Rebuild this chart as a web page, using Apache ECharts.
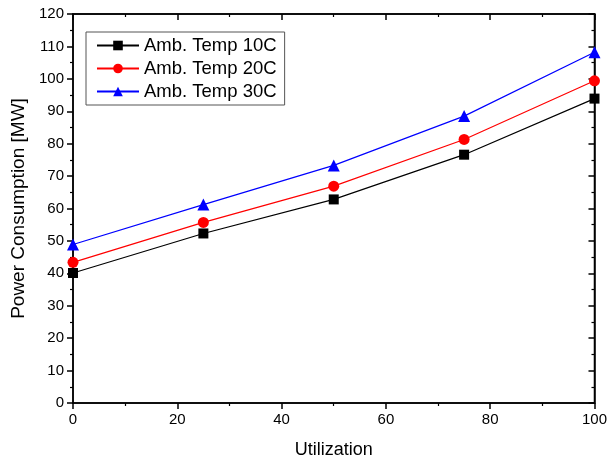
<!DOCTYPE html>
<html><head><meta charset="utf-8">
<script src="https://cdn.jsdelivr.net/npm/echarts@6/dist/echarts.min.js"></script>
<style>html,body{margin:0;padding:0;background:#fff}#c{width:610px;height:464px}</style>
</head><body><div id="c"></div>
<script>
const utilization = [0, 25, 50, 75, 100];
const temp10 = [40.1, 52.3, 62.8, 76.6, 93.9];
const temp20 = [43.4, 55.7, 66.9, 81.3, 99.4];
const temp30 = [48.9, 61.2, 73.3, 88.5, 108.2];
const seriesNames = ['Amb. Temp 10C', 'Amb. Temp 20C', 'Amb. Temp 30C'];

const font = 'Arial, "Liberation Sans", sans-serif';
const pairs = arr => utilization.map((u, i) => [u, arr[i]]);
const axisLine = {show: true, onZero: false, lineStyle: {color: '#000', width: 1.5}};
const chart = echarts.init(document.getElementById('c'));
chart.setOption({
  animation: false,
  grid: {left: 73, right: 12, top: 14, bottom: 61, show: true, borderColor: '#000', borderWidth: 1.5},
  legend: {
    orient: 'vertical', left: 86, top: 32,
    data: seriesNames,
    borderColor: '#555', borderWidth: 1, borderRadius: 0,
    padding: [4, 8, 4, 10], itemGap: 4, itemWidth: 42, itemHeight: 12,
    textStyle: {fontFamily: font, fontSize: 18.5, color: '#000'}
  },
  xAxis: [{
    type: 'value', min: 0, max: 100, interval: 20,
    name: 'Utilization', nameLocation: 'middle', nameGap: 38,
    nameTextStyle: {fontFamily: font, fontSize: 18, color: '#000'},
    axisLine, axisTick: {show: true, length: 6, lineStyle: {color: '#000', width: 1.5}},
    minorTick: {show: true, splitNumber: 2, length: 3, lineStyle: {color: '#000', width: 1.2}},
    axisLabel: {fontFamily: font, fontSize: 15, color: '#000', margin: 9},
    splitLine: {show: false}
  }, {
    type: 'value', min: 0, max: 100, interval: 20, position: 'top',
    axisLine, axisTick: {show: true, inside: true, length: 6, lineStyle: {color: '#000', width: 1.5}},
    minorTick: {show: true, splitNumber: 2, length: 3, lineStyle: {color: '#000', width: 1.2}},
    axisLabel: {show: false}, splitLine: {show: false}
  }],
  yAxis: [{
    type: 'value', min: 0, max: 120, interval: 10,
    name: 'Power Consumption [MW]', nameLocation: 'middle', nameGap: 40,
    nameTextStyle: {fontFamily: font, fontSize: 19, color: '#000'},
    axisLine, axisTick: {show: true, length: 6, lineStyle: {color: '#000', width: 1.5}},
    minorTick: {show: true, splitNumber: 2, length: 3, lineStyle: {color: '#000', width: 1.2}},
    axisLabel: {fontFamily: font, fontSize: 15, color: '#000', margin: 9},
    splitLine: {show: false}
  }, {
    type: 'value', min: 0, max: 120, interval: 10, position: 'right',
    axisLine, axisTick: {show: true, inside: true, length: 6, lineStyle: {color: '#000', width: 1.5}},
    minorTick: {show: true, splitNumber: 2, length: 3, lineStyle: {color: '#000', width: 1.2}},
    axisLabel: {show: false}, splitLine: {show: false}
  }],
  series: [
    {name: seriesNames[0], type: 'line', data: pairs(temp10), symbol: 'rect', symbolSize: 10,
     itemStyle: {color: '#000'}, lineStyle: {color: '#000', width: 1.2}},
    {name: seriesNames[1], type: 'line', data: pairs(temp20), symbol: 'circle', symbolSize: 11,
     itemStyle: {color: '#ff0000'}, lineStyle: {color: '#ff0000', width: 1.2}},
    {name: seriesNames[2], type: 'line', data: pairs(temp30), symbol: 'triangle', symbolSize: 12,
     itemStyle: {color: '#0000ff'}, lineStyle: {color: '#0000ff', width: 1.2}},
    {type: 'line', xAxisIndex: 1, yAxisIndex: 1, data: [], silent: true}
  ]
});
</script></body></html>
